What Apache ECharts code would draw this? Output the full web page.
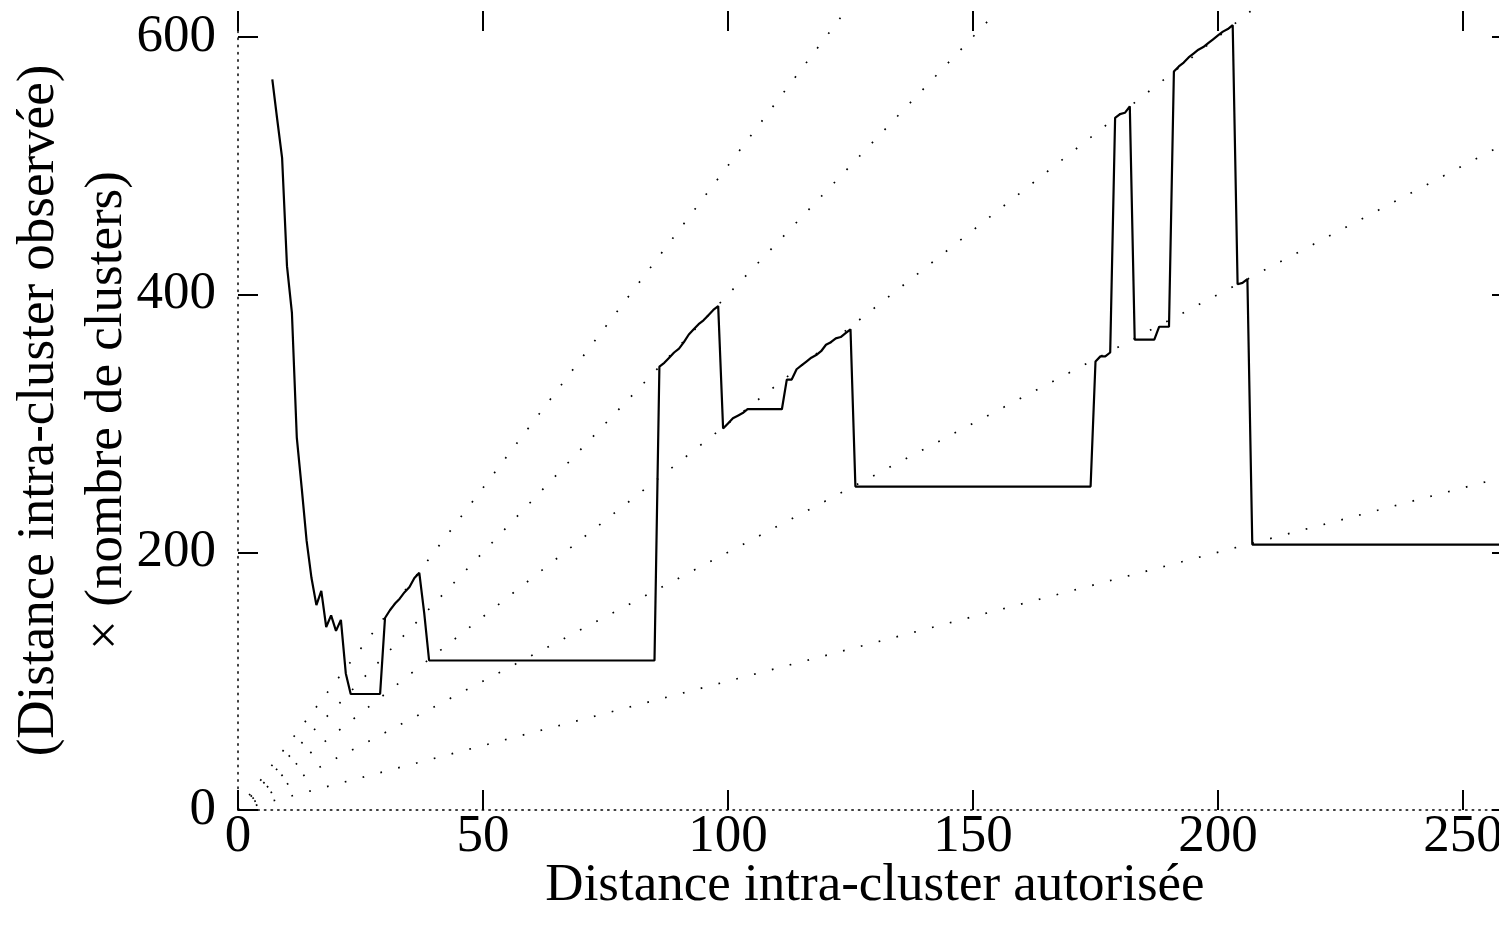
<!DOCTYPE html>
<html>
<head>
<meta charset="utf-8">
<script src="https://cdn.jsdelivr.net/npm/echarts@6/dist/echarts.min.js"></script>
<style>
html,body{margin:0;padding:0;background:#fff;}
#chart{width:1499px;height:928px;}
</style>
</head>
<body>
<div id="chart"></div>
<script>
// Allowed intra-cluster distance (x)
var distAllowed = [7,8,9,10,11,12,13,14,15,16,17,18,19,20,21,22,23,29,30,31,32,33,34,35,36,37,38,39,85,86,87,88,89,90,91,92,93,94,95,96,97,98,99,100,101,102,103,104,111,112,113,114,115,116,117,118,119,120,121,122,123,124,125,126,174,175,176,177,178,179,180,181,182,183,187,188,190,191,192,193,194,195,196,197,198,199,200,201,202,203,204,205,206,207,260];
// Observed intra-cluster distance x number of clusters (y)
var distObserved = [567,536,506,422,386,289,250,209,180,159,170,142,151,139,147.5,106,90,90,149,155,160,164,169,173,180,184,153,116,116,344,347,351,355,358,363,369,373,377,380,384,388,391,296,300,304,306,308,311,311,334,334,342,345,348,351,353,356,361,363,366,367,370,373,251,251,348,352,352,355,537,540,541,546,365,365,375,375,573,577,580,584,587,590,592,595,598,601,604,606,609,408,409,412,206,206];
// Guide rays y = n * x for n clusters (end points in data units)
var guideN1 = [[0,0],[260,260]];
var guideN2 = [[0,0],[260,520]];
var guideN3 = [[0,0],[206.7,620]];
var guideN4 = [[0,0],[155,620]];
var guideN5 = [[0,0],[124,620]];
var xTicks = [0,50,100,150,200,250];
var yTicks = [0,200,400,600];

var mainData = distAllowed.map(function(x,i){return [x, distObserved[i]];});
var FONT = 'Liberation Serif';
var FS = 53;
var dotStyle = {color:'#000', width:1.7, type:[1.7,16.7], cap:'butt'};
function guide(d){
  return {type:'line', data:d, symbol:'none', silent:true, lineStyle:dotStyle, z:1};
}
var tickStyle = {color:'#000', width:2};
var chart = echarts.init(document.getElementById('chart'), null, {renderer:'canvas'});
var option = {
  backgroundColor:'#fff',
  animation:false,
  grid:{left:238, top:11, width:1274, height:799, containLabel:false, outerBoundsMode:'none'},
  xAxis:[{
    type:'value', min:0, max:260, interval:50, position:'bottom',
    name:'Distance intra-cluster autorisée', nameLocation:'middle', nameGap:50, nameMoveOverlap:false,
    nameTextStyle:{fontFamily:FONT, fontSize:FS, color:'#000'},
    axisLine:{show:true, onZero:false, lineStyle:{color:'#000', width:1.5, type:[1.5,5.1]}},
    axisTick:{show:true, inside:true, length:20, lineStyle:tickStyle, customValues:xTicks},
    axisLabel:{show:true, margin:1, fontFamily:FONT, fontSize:FS, color:'#000', customValues:xTicks},
    splitLine:{show:false}
  },{
    type:'value', min:0, max:260, interval:50, position:'top',
    axisLine:{show:false, onZero:false},
    axisTick:{show:true, inside:true, length:20, lineStyle:tickStyle, customValues:xTicks},
    axisLabel:{show:false},
    splitLine:{show:false}
  }],
  yAxis:[{
    type:'value', min:0, max:620, interval:200, position:'left',
    name:'(Distance intra-cluster observée)\n× (nombre de clusters)', nameLocation:'middle', nameGap:97, nameRotate:90, nameMoveOverlap:false,
    nameTextStyle:{fontFamily:FONT, fontSize:FS, color:'#000', lineHeight:68, align:'center'},
    axisLine:{show:true, onZero:false, lineStyle:{color:'#000', width:1.5, type:[1.5,5.7]}},
    axisTick:{show:true, inside:true, length:20, lineStyle:tickStyle, customValues:yTicks},
    axisLabel:{show:true, margin:22, fontFamily:FONT, fontSize:FS, color:'#000', customValues:yTicks},
    splitLine:{show:false}
  },{
    type:'value', min:0, max:620, interval:200, position:'right',
    axisLine:{show:false, onZero:false},
    axisTick:{show:true, inside:true, length:20, lineStyle:tickStyle, customValues:yTicks},
    axisLabel:{show:false},
    splitLine:{show:false}
  }],
  series:[
    guide(guideN1), guide(guideN2), guide(guideN3), guide(guideN4), guide(guideN5),
    {type:'line', data:mainData, symbol:'none', lineStyle:{color:'#000', width:2.2}, z:3}
  ]
};
chart.setOption(option);
</script>
</body>
</html>
